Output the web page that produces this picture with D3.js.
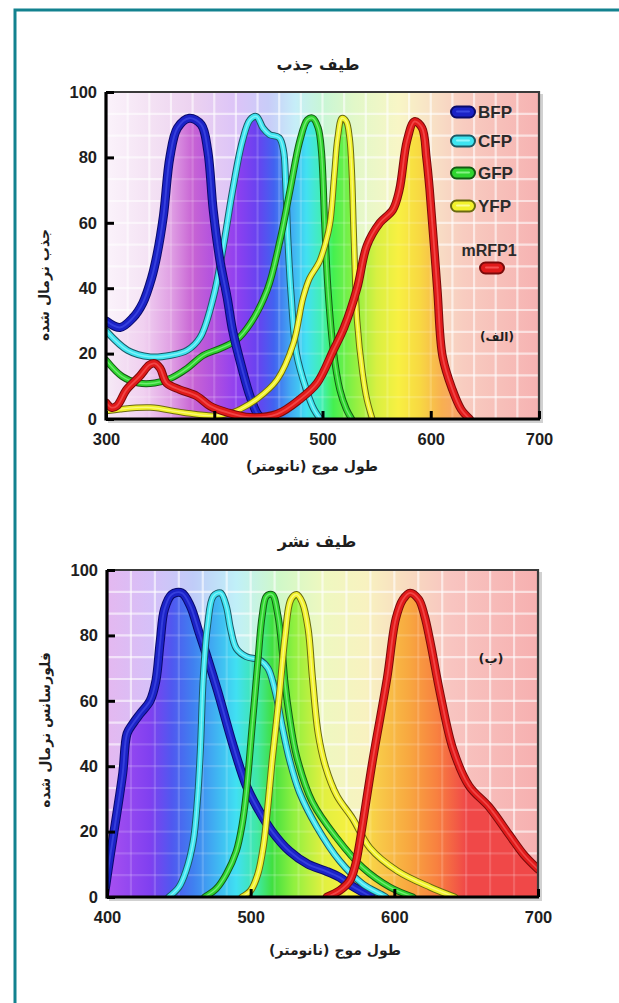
<!DOCTYPE html>
<html><head><meta charset="utf-8">
<script src="https://cdn.jsdelivr.net/npm/d3@7"></script>
<style>body{margin:0;background:#fff;overflow:hidden}</style>
</head><body>
<script>
// ---------- DATA ----------
const seriesNames = ["BFP","CFP","GFP","YFP","mRFP1"];
const yTicks = [0,20,40,60,80,100];
const xTicksAbs = [300,400,500,600,700];
const xTicksEm = [400,500,600,700];

// absorption spectra [wavelength nm, normalized absorbance]
const absBFP = [[300,30],[313,28],[325,31],[334,35.5],[342,43],[347,50],[353,62],[359,80],[366,89],[377,92],[388,90],[394,82],[399,64],[405,49],[412,37],[417,27],[426,15],[433,7],[440,1.5],[445,0]];
const absCFP = [[300,27],[320,21],[341,19],[360,19.5],[375,21],[387,25],[399,37],[408,52],[417,70],[426,85],[433,91.5],[439,92.5],[445,89],[451,87],[460,86],[464,82],[466,72],[468,55],[471,38],[476,20],[485,9],[492,3],[498,0]];
const absGFP = [[300,18],[315,13],[330,11],[345,11],[360,12.5],[375,15.5],[390,19.5],[405,21.5],[420,24],[433,29],[449,39.5],[461,55],[470,70],[479,85],[486,91.5],[491,92],[496,89],[499,82],[502,60],[505,40],[510,21],[516,9],[522,3],[527,0]];
const absYFP = [[302,2.5],[313,3],[341,3.5],[371,2],[399,1],[415,1.8],[424,3],[439,6],[458,12],[473,23],[482,37],[488,43],[497,48],[503,54],[507,60],[511,75],[514,86],[518,92],[522,91],[525,86],[527,76],[529,55],[532,30],[537,14],[541,6],[546,0]];
const absRFP = [[300,5],[305,3.5],[310,4],[319,9],[331,13],[340,16.5],[345,17],[350,15.5],[356,11],[368,9],[384,7],[396,4],[412,2],[433,0.5],[458,1.5],[479,6],[495,11],[510,21],[520,28],[532,40],[541,53],[553,60],[565,64],[571,70],[578,85],[585,91],[592,89],[596,80],[599,70],[606,40],[611,19],[620,9],[628,3],[636,0]];

// emission spectra [wavelength nm, normalized fluorescence]
const emBFP = [[398,0],[402,12],[407,26],[411,38],[414,50],[418,53],[423,56],[430,60],[434,66],[437,78],[440,88],[445,92.5],[452,93],[458,89],[464,81],[470,73],[477,63],[488,46],[497,34],[505,27],[515,20],[527,14],[540,10],[552,8],[562,6],[570,3.5],[578,1.5],[584,0]];
const emCFP = [[443,0],[450,3],[455,8],[460,17],[463,30],[465,45],[467,67],[470,83],[474,92],[479,93],[483,89],[486,82],[490,76],[497,73.5],[506,72.5],[512,70],[517,63],[522,52],[527,42],[534,32],[546,21.5],[562,11],[578,4],[590,1],[594,0]];
const emGFP = [[468,0],[476,2.5],[483,7],[490,14],[494,22],[497,32],[501,52],[505,72],[508,86],[511,92],[515,92.5],[519,86],[522,75],[524,65],[527,55],[532,43],[543,29],[560,18],[578,9],[597,3],[613,0]];
const emYFP = [[494,0],[500,2],[505,7],[509,16],[512,28],[515,42],[520,62],[524,80],[528,91],[532,92.5],[536,90],[540,82],[543,67],[547,50],[552,40],[560,31],[571,24],[583,15],[602,8],[625,3],[642,0]];
const emRFP = [[553,0],[562,2],[569,5],[573,10],[576,17],[585,42],[595,67],[601,85],[606,91],[611,93],[617,91],[621,86],[625,78],[632,62],[641,45],[652,34],[666,27.5],[680,19],[690,13],[700,8.5]];

// ---------- STYLES ----------
const seriesStyle = {
  BFP:  {main:"#1b22c6", dark:"#0a0a6a", hi:"#4a58ee"},
  CFP:  {main:"#3fe4f0", dark:"#1a5a66", hi:"#b8ffff"},
  GFP:  {main:"#2fd42f", dark:"#145a14", hi:"#a8ffa8"},
  YFP:  {main:"#f2f22c", dark:"#6a6a10", hi:"#ffffc0"},
  mRFP1:{main:"#e01a1a", dark:"#7a0a0a", hi:"#ff6a6a"}
};
const paleAbs = [[300,"#fbf3fb"],[340,"#f4e2f4"],[380,"#ecd2f0"],[420,"#dcc4f8"],[450,"#c8ccf8"],[475,"#c6eef8"],[500,"#c8f6d6"],[530,"#e2f8c8"],[570,"#f8f6c6"],[600,"#f8e2c6"],[630,"#f8ccc0"],[700,"#f6b2b2"]];
const satAbs  = [[300,"#f6eaf6"],[335,"#f0d0f0"],[360,"#e0a0e4"],[380,"#c864d4"],[400,"#b050e0"],[420,"#9040f0"],[440,"#6842f0"],[455,"#4262f0"],[470,"#42a8f2"],[485,"#42e0f2"],[500,"#42f0b0"],[510,"#44f050"],[530,"#90f042"],[550,"#d8f042"],[570,"#f8f042"],[590,"#f8d842"],[610,"#f8b050"],[630,"#f8a070"],[660,"#f6b2a2"],[700,"#f6b2b2"]];
const paleEm  = [[400,"#e4b8f0"],[430,"#d6c0f8"],[460,"#c0ccf8"],[490,"#c0f0f8"],[520,"#d0f8c8"],[550,"#eef8c0"],[580,"#f8f2c0"],[610,"#f8dac0"],[640,"#f8c4c0"],[700,"#f6b0b0"]];
const satEm   = [[400,"#a850f0"],[430,"#8040f0"],[445,"#5058f0"],[460,"#4080f0"],[475,"#40b0f2"],[490,"#40e0f2"],[505,"#40e8a0"],[515,"#40e040"],[530,"#90f040"],[550,"#e0f040"],[570,"#f8f040"],[590,"#f8c848"],[610,"#f8a840"],[630,"#f88040"],[650,"#f04848"],[700,"#f04848"]];

const W = 619, H = 1003;
const svg = d3.select("body").append("svg").attr("width", W).attr("height", H);
const defs = svg.append("defs");

// outer teal frame
svg.append("rect").attr("x",15).attr("y",10).attr("width",720).attr("height",1200)
  .attr("fill","none").attr("stroke","#13828f").attr("stroke-width",3);

const faFont = "'DejaVu Sans', sans-serif";
const numFont = "'Liberation Sans', Arial, sans-serif";

function makeGrad(id, stops, x) {
  const d = x.domain();
  const g = defs.append("linearGradient").attr("id", id).attr("gradientUnits","userSpaceOnUse")
    .attr("x1", x(d[0])).attr("x2", x(d[1])).attr("y1",0).attr("y2",0);
  stops.forEach(s => g.append("stop").attr("offset", (s[0]-d[0])/(d[1]-d[0])).attr("stop-color", s[1]));
}

function drawChart(cfg) {
  const {id, x, y, series, pale, sat, widths, xTicks, gridX, gridY} = cfg;
  const [x0, x1] = x.range(), [y0, y1] = y.range(); // y0 bottom, y1 top
  makeGrad(id+"pale", pale, x);
  makeGrad(id+"sat", sat, x);
  defs.append("clipPath").attr("id", id+"clip").append("rect")
    .attr("x", x0).attr("y", y1).attr("width", x1-x0).attr("height", y0-y1);

  const g = svg.append("g");
  // shadow
  g.append("rect").attr("x", x0+2).attr("y", y1+2).attr("width", x1-x0+2).attr("height", y0-y1+2)
    .attr("fill","#000").attr("opacity",0.18);
  g.append("rect").attr("x", x0).attr("y", y1).attr("width", x1-x0).attr("height", y0-y1)
    .attr("fill", `url(#${id}pale)`);

  const cg = g.append("g").attr("clip-path", `url(#${id}clip)`);
  const curve = d3.curveCatmullRom.alpha(0.5);
  const area = d3.area().x(d=>x(d[0])).y0(y(0)).y1(d=>y(d[1])).curve(curve);
  const line = d3.line().x(d=>x(d[0])).y(d=>y(d[1])).curve(curve);

  const xd = x.domain();
  function grid(op) {
    for (let i = 1; i < gridX; i++) {
      const v = xd[0] + (xd[1]-xd[0])*i/gridX;
      cg.append("line").attr("x1", x(v)).attr("x2", x(v)).attr("y1", y1).attr("y2", y0)
        .attr("stroke","#fff").attr("stroke-opacity",op).attr("stroke-width",2.2);
    }
    for (let i = 1; i < gridY; i++) {
      const v = 100*i/gridY;
      cg.append("line").attr("x1", x0).attr("x2", x1).attr("y1", y(v)).attr("y2", y(v))
        .attr("stroke","#fff").attr("stroke-opacity",op).attr("stroke-width",2.2);
    }
  }
  grid(0.5);
  series.forEach(s => cg.append("path").attr("d", area(s.data)).attr("fill", `url(#${id}sat)`));
  grid(0.16);

  // curves
  cfg.order.forEach(name => {
    const s = series.find(q => q.name === name);
    const st = seriesStyle[name], w = widths[name];
    const d = line(s.data);
    cg.append("path").attr("d", d).attr("fill","none").attr("stroke", st.dark)
      .attr("stroke-width", w+2).attr("stroke-linejoin","round").attr("stroke-linecap","round");
    cg.append("path").attr("d", d).attr("fill","none").attr("stroke", st.main)
      .attr("stroke-width", w).attr("stroke-linejoin","round").attr("stroke-linecap","round");
    cg.append("path").attr("d", d).attr("fill","none").attr("stroke", st.hi)
      .attr("stroke-width", Math.max(1, w*0.28)).attr("stroke-opacity",0.55)
      .attr("stroke-linejoin","round").attr("stroke-linecap","round");
  });

  // frame
  g.append("path").attr("d", `M${x0},${y1}H${x1}V${y0}`).attr("fill","none")
    .attr("stroke","#3a3a3a").attr("stroke-width",2.2);
  g.append("path").attr("d", `M${x0},${y1}V${y0}H${x1+1}`).attr("fill","none")
    .attr("stroke","#000").attr("stroke-width",3.2);

  // axes
  const ay = g.append("g").attr("transform", `translate(${x0},0)`)
    .call(d3.axisLeft(y).tickValues(yTicks).tickSize(-8).tickPadding(9));
  const ax = g.append("g").attr("transform", `translate(0,${y0})`)
    .call(d3.axisBottom(x).tickValues(xTicks).tickSize(-8).tickPadding(14));
  [ax, ay].forEach(a => {
    a.select(".domain").remove();
    a.selectAll(".tick line").attr("stroke","#000").attr("stroke-width",3);
    a.selectAll(".tick text").attr("fill","#1e1e1e").style("font-family", numFont)
      .style("font-weight","bold").style("font-size","16.5px");
  });
  return g;
}

function faText(g, txt, cx, cy, size, rot) {
  const t = g.append("text").attr("x", cx).attr("y", cy).attr("text-anchor","middle")
    .attr("dominant-baseline","central").attr("direction","rtl")
    .style("direction","rtl").style("unicode-bidi","embed")
    .style("font-family", faFont).style("font-weight","bold").style("font-size", size+"px")
    .attr("fill","#1e1e1e").text(txt);
  if (rot) t.attr("transform", `rotate(${rot},${cx},${cy})`);
  return t;
}

function pill(g, name, cx, cy) {
  const st = seriesStyle[name];
  g.append("rect").attr("x", cx-12).attr("y", cy-5.5).attr("width",24).attr("height",11).attr("rx",5.5)
    .attr("fill", st.main).attr("stroke", st.dark).attr("stroke-width",2);
  g.append("line").attr("x1", cx-6).attr("x2", cx+6).attr("y1", cy-0.5).attr("y2", cy-0.5)
    .attr("stroke", st.hi).attr("stroke-width",2).attr("stroke-opacity",0.7).attr("stroke-linecap","round");
}

// ---------- TOP: absorption ----------
const xA = d3.scaleLinear().domain([300,700]).range([106,539]);
const yA = d3.scaleLinear().domain([0,100]).range([419,92]);
const gA = drawChart({
  id:"abs", x:xA, y:yA, xTicks:xTicksAbs, gridX:20, gridY:15,
  series:[{name:"BFP",data:absBFP},{name:"CFP",data:absCFP},{name:"GFP",data:absGFP},{name:"YFP",data:absYFP},{name:"mRFP1",data:absRFP}],
  order:["CFP","GFP","BFP","YFP","mRFP1"],
  widths:{BFP:7,CFP:5,GFP:5,YFP:4.5,mRFP1:6.5},
  pale:paleAbs, sat:satAbs
});
faText(gA, "طیف جذب", 318, 64, 16);
faText(gA, "طول موج (نانومتر)", 312, 466, 14);
faText(gA, "جذب نرمال شده", 44, 285, 14, -90);
faText(gA, "(الف)", 497, 337, 12);
const legY = [112,141,173,206];
seriesNames.slice(0,4).forEach((n,i) => {
  pill(gA, n, 463, legY[i]);
  gA.append("text").attr("x", 478).attr("y", legY[i]).attr("dominant-baseline","central")
    .style("font-family", numFont).style("font-weight","bold").style("font-size","17px")
    .attr("fill","#2a2a2a").text(n);
});
gA.append("text").attr("x", 489).attr("y", 250).attr("text-anchor","middle").attr("dominant-baseline","central")
  .style("font-family", numFont).style("font-weight","bold").style("font-size","16px")
  .attr("fill","#2a2a2a").text(seriesNames[4]);
pill(gA, "mRFP1", 492, 268);

// ---------- BOTTOM: emission ----------
const xE = d3.scaleLinear().domain([400,700]).range([107,538]);
const yE = d3.scaleLinear().domain([0,100]).range([897,570]);
const gE = drawChart({
  id:"em", x:xE, y:yE, xTicks:xTicksEm, gridX:18, gridY:15,
  series:[{name:"BFP",data:emBFP},{name:"CFP",data:emCFP},{name:"GFP",data:emGFP},{name:"YFP",data:emYFP},{name:"mRFP1",data:emRFP}],
  order:["BFP","CFP","GFP","YFP","mRFP1"],
  widths:{BFP:7,CFP:5,GFP:5,YFP:5,mRFP1:6.5},
  pale:paleEm, sat:satEm
});
faText(gE, "طیف نشر", 317, 541, 16);
faText(gE, "طول موج (نانومتر)", 335, 950, 14);
faText(gE, "فلورسانس نرمال شده", 45, 730, 14, -90);
faText(gE, "(ب)", 491, 658, 13);
</script>
</body></html>
